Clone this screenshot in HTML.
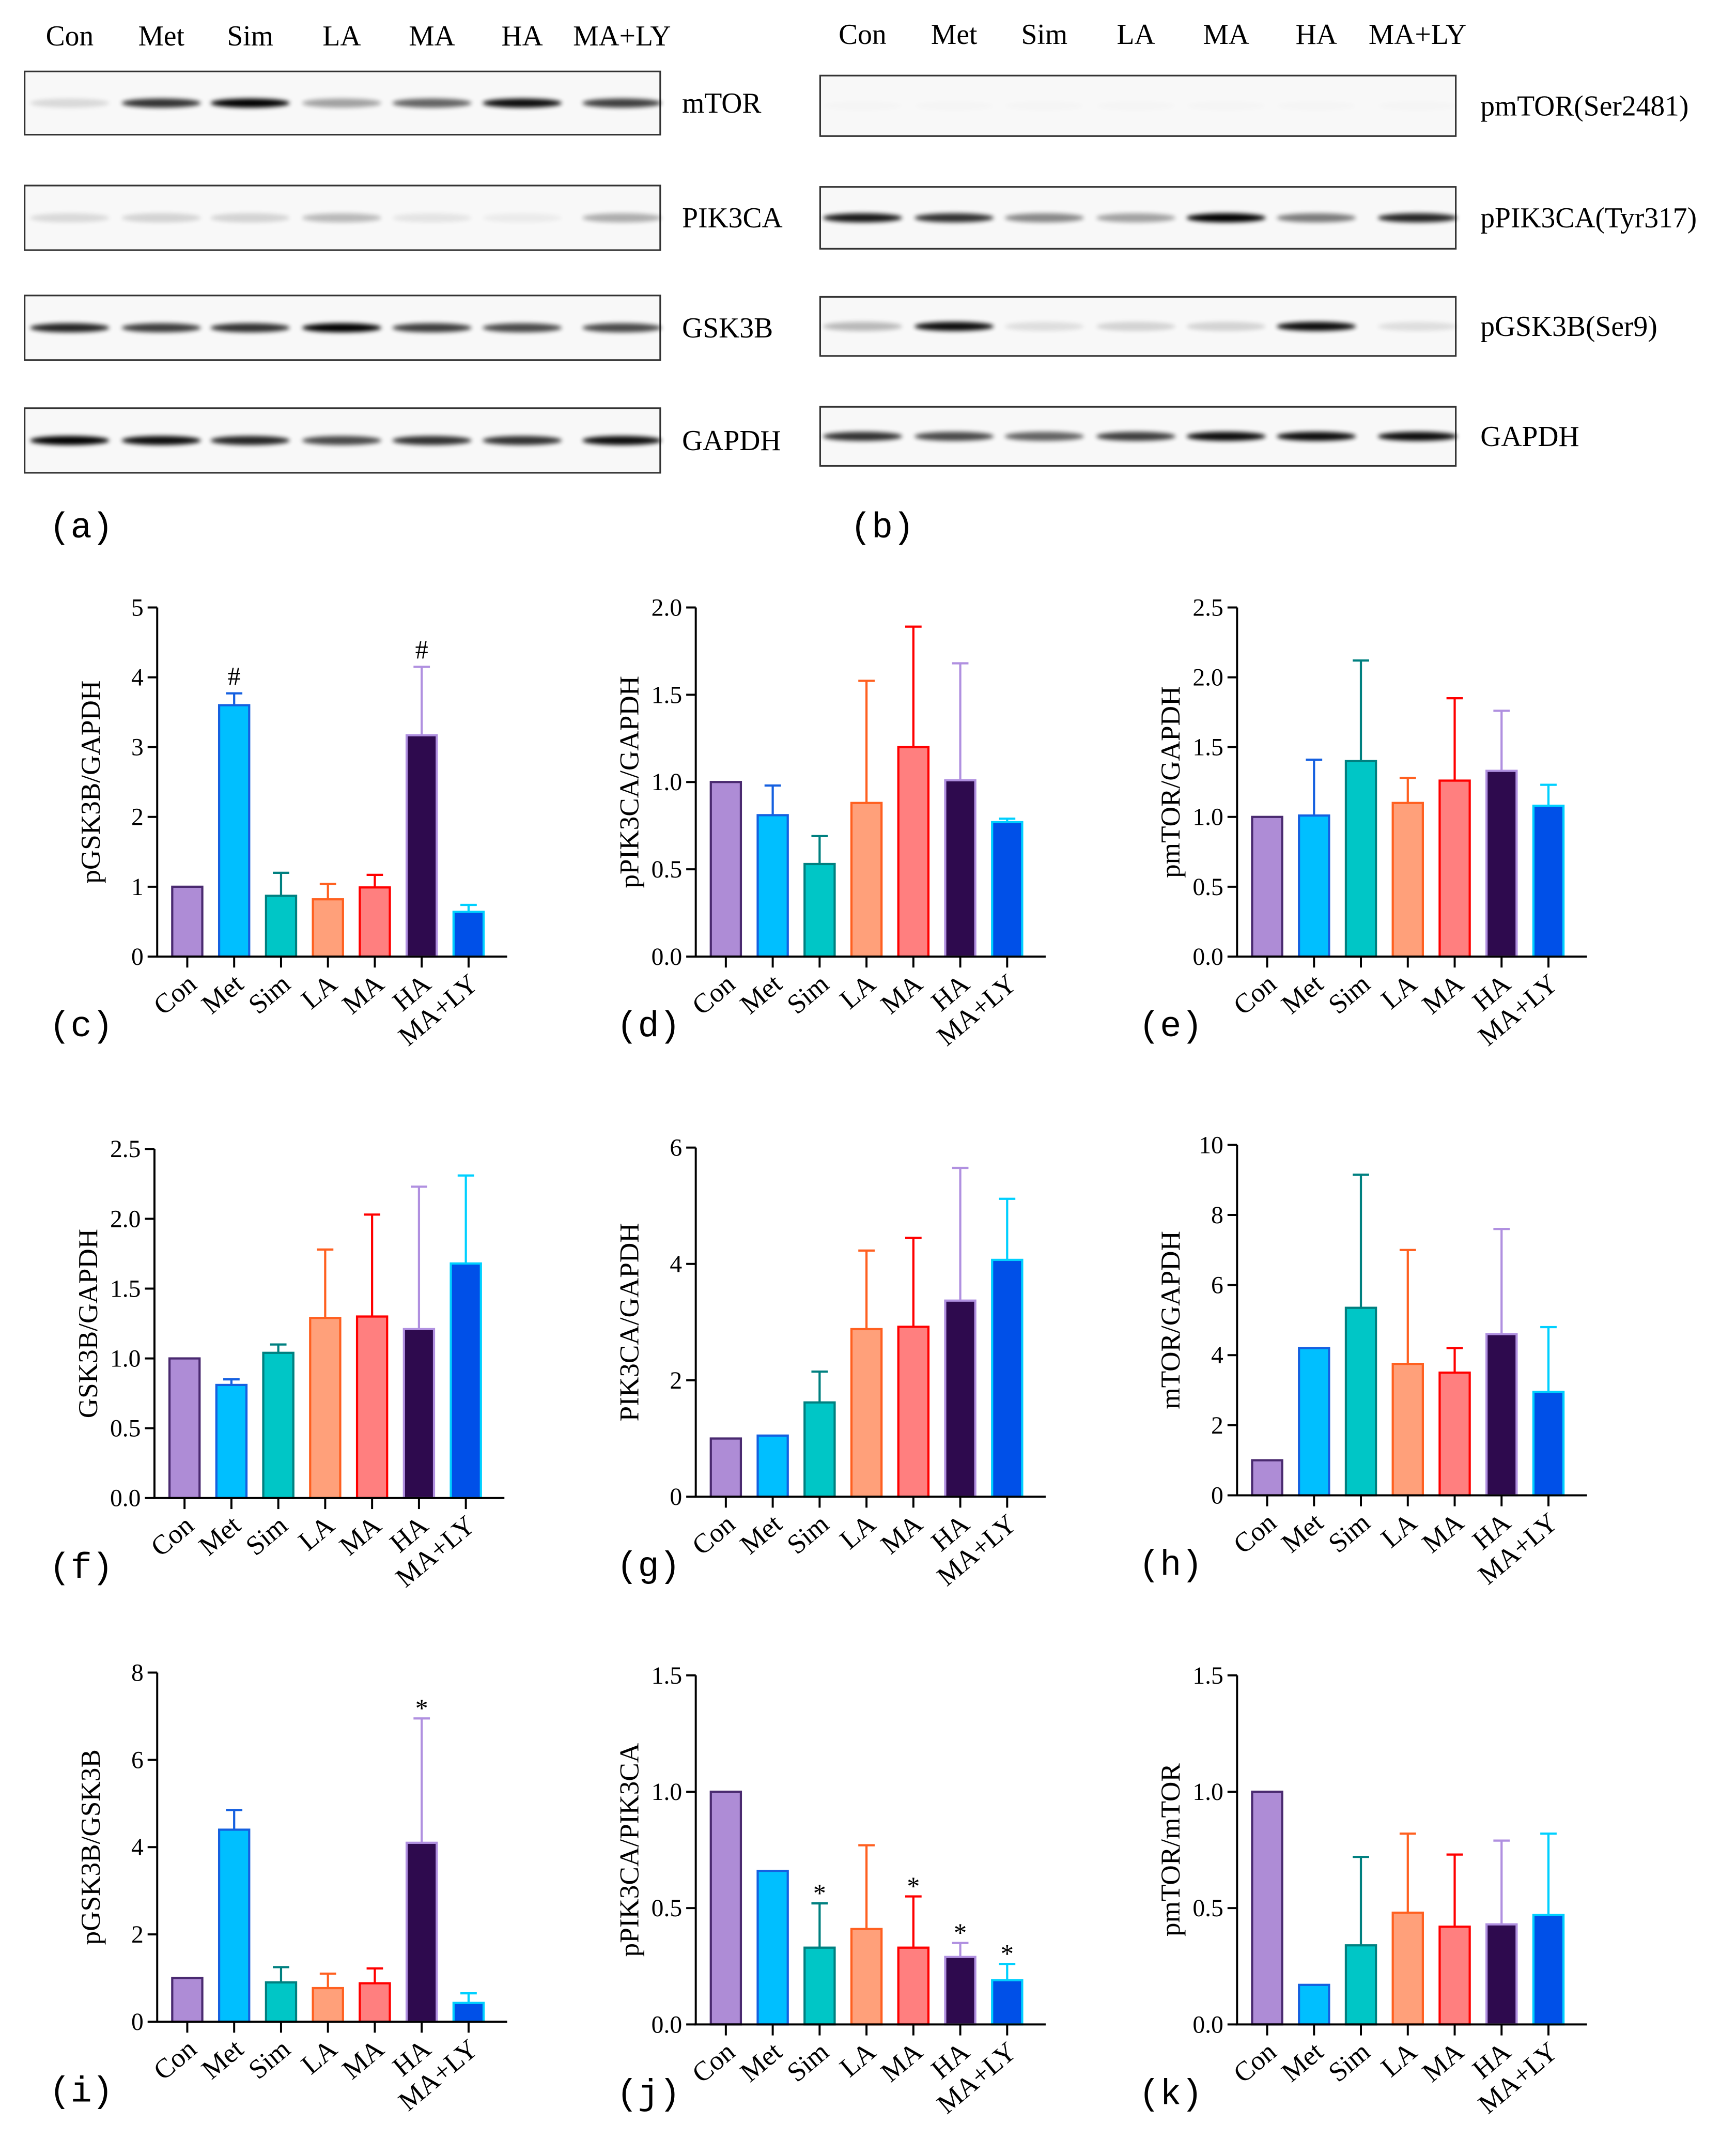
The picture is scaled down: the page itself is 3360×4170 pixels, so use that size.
<!DOCTYPE html>
<html><head><meta charset="utf-8"><style>
html,body{margin:0;padding:0;background:#fff;}
svg{display:block;font-family:"Liberation Serif",serif;}
</style></head><body>
<svg id="fig" width="3360" height="4170" viewBox="0 0 1270 1568" preserveAspectRatio="none" xmlns="http://www.w3.org/2000/svg">
<defs>
<filter id="blur" x="-50%" y="-200%" width="200%" height="500%"><feGaussianBlur stdDeviation="1.6"/></filter>
</defs>
<g id="blots"></g>
<g id="charts"></g>
</svg>
<script>
const groups = ["Con","Met","Sim","LA","MA","HA","MA+LY"];
const fills = ["#ae8cd6","#00bfff","#00c6c6","#ffa07a","#ff7f7f","#2e0a4e","#0050e8"];
const strokes = ["#4a2a70","#1560e0","#008080","#ff6020","#ff0000","#b090e0","#00d0ff"];

const cVals=[1,3.6,0.87,0.82,0.99,3.17,0.64];
const cTops=[null,3.77,1.2,1.04,1.17,4.15,0.74];
const cMarks=["","#","","","","#",""];
const cTicks=[0,1,2,3,4,5];
const dVals=[1,0.81,0.53,0.88,1.2,1.01,0.77];
const dTops=[null,0.98,0.69,1.58,1.89,1.68,0.79];
const dTicks=["0.0","0.5","1.0","1.5","2.0"];
const eVals=[1,1.01,1.4,1.1,1.26,1.33,1.08];
const eTops=[null,1.41,2.12,1.28,1.85,1.76,1.23];
const eTicks=["0.0","0.5","1.0","1.5","2.0","2.5"];
const fVals=[1,0.81,1.04,1.29,1.3,1.21,1.68];
const fTops=[null,0.85,1.1,1.78,2.03,2.23,2.31];
const fTicks=["0.0","0.5","1.0","1.5","2.0","2.5"];
const gVals=[1,1.05,1.62,2.88,2.92,3.37,4.07];
const gTops=[null,null,2.15,4.23,4.45,5.65,5.12];
const gTicks=[0,2,4,6];
const hVals=[1,4.2,5.35,3.75,3.5,4.6,2.95];
const hTops=[null,null,9.15,7.0,4.2,7.6,4.8];
const hTicks=[0,2,4,6,8,10];
const iVals=[1,4.4,0.9,0.77,0.88,4.1,0.43];
const iTops=[null,4.85,1.25,1.1,1.22,6.95,0.65];
const iMarks=["","","","","","*",""];
const iTicks=[0,2,4,6,8];
const jVals=[1,0.66,0.33,0.41,0.33,0.29,0.19];
const jTops=[null,null,0.52,0.77,0.55,0.35,0.26];
const jMarks=["","","*","","*","*","*"];
const jTicks=["0.0","0.5","1.0","1.5"];
const kVals=[1,0.17,0.34,0.48,0.42,0.43,0.47];
const kTops=[null,null,0.72,0.82,0.73,0.79,0.82];
const kTicks=["0.0","0.5","1.0","1.5"];

const NS="http://www.w3.org/2000/svg";
function mk(tag,attrs,parent,text){const e=document.createElementNS(NS,tag);for(const k in attrs)e.setAttribute(k,attrs[k]);if(text!==undefined)e.textContent=text;parent.appendChild(e);return e;}

// ---------- blots ----------
const blotG=document.getElementById('blots');
const aLanes=[51,118,183,250,316,382,455];
const bLanes=[631,698,764,831,897,963,1037];
const aRows=[{name:"mTOR",y0:52,y1:98,v:[.12,.8,1,.35,.6,.95,.75]},
 {name:"PIK3CA",y0:135,y1:182,v:[.12,.15,.15,.25,.08,.05,.3]},
 {name:"GSK3B",y0:215,y1:262,v:[.85,.75,.8,1,.75,.7,.7]},
 {name:"GAPDH",y0:297,y1:344,v:[1,.95,.85,.7,.8,.8,.95]}];
const bRows=[{name:"pmTOR(Ser2481)",y0:55,y1:99,v:[.01,.01,.01,.01,.01,.01,.01]},
 {name:"pPIK3CA(Tyr317)",y0:136,y1:181,v:[.9,.8,.45,.35,1,.5,.85]},
 {name:"pGSK3B(Ser9)",y0:216,y1:259,v:[.25,.95,.1,.15,.15,.95,.1]},
 {name:"GAPDH",y0:296,y1:339,v:[.8,.7,.6,.75,.95,.95,.95]}];
function drawBlot(x0,x1,lanes,rows,hy,labX,panel,px){
  const g=mk('g',{},blotG);
  
  
  lanes.forEach((lx,i)=>{const t=mk('text',{x:lx,y:hy,'font-size':21,'text-anchor':'middle'},g,groups[i]);
    });
  rows.forEach(r=>{
    const box=mk('rect',{x:x0,y:r.y0,width:x1-x0,height:r.y1-r.y0,fill:'#f8f8f8',stroke:'#333','stroke-width':1.2},g);
    
    const cy=(r.y0+r.y1)/2;
    r.v.forEach((v,i)=>{const b=mk('ellipse',{cx:lanes[i],cy:cy,rx:29,ry:3.3,fill:'#000',opacity:v,filter:'url(#blur)'},g);
      });
    const t=mk('text',{x:labX,y:cy+7,'font-size':21},g,r.name);
    
  });
  const pl=mk('text',{x:px,y:391,'font-size':26,'font-family':'Liberation Mono, monospace'},g,'('+panel+')');
  
}
drawBlot(18,483,aLanes,aRows,33,499,'a',36);
drawBlot(600,1065,bLanes,bRows,32,1083,'b',622);

// ---------- charts ----------
const chartG=document.getElementById('charts');
function drawChart(panel,x0,yTop,y0,vals,tops,ticks,title,marks,px){
  const g=mk('g',{},chartG);
  
  
  const tv=ticks.map(Number);const max=tv[tv.length-1];
  const y=v=>y0-(v/max)*(y0-yTop);
  const x=i=>x0+22+i*34.3;
  vals.forEach((v,i)=>{
    if(tops[i]!=null){
      const e=mk('line',{x1:x(i),x2:x(i),y1:y(v),y2:y(tops[i]),stroke:strokes[i],'stroke-width':1.6},g);
      
      const c=mk('line',{x1:x(i)-6,x2:x(i)+6,y1:y(tops[i]),y2:y(tops[i]),stroke:strokes[i],'stroke-width':1.6},g);
      
    }
    const b=mk('rect',{x:x(i)-11,y:y(v),width:22,height:y0-y(v),fill:fills[i],stroke:strokes[i],'stroke-width':1.6},g);
    
    if(marks&&marks[i]){const top=tops[i]!=null?tops[i]:v;
      const m=mk('text',{x:x(i),y:y(top)-(marks[i]=='*'?1:6),'font-size':marks[i]=='*'?19:19,'text-anchor':'middle'},g,marks[i]);
      }
    const tk=mk('line',{x1:x(i),x2:x(i),y1:y0,y2:y0+8,stroke:'#000','stroke-width':1.5},g);
    
    const lx=x(i)+8,ly=y0+22;
    const lt=mk('text',{x:lx,y:ly,'font-size':20,'text-anchor':'end',transform:`rotate(-40 ${lx} ${ly})`},g,groups[i]);
    
  });
  const ya=mk('line',{x1:x0,x2:x0,y1:yTop,y2:y0,stroke:'#000','stroke-width':1.5},g);
  
  const xa=mk('line',{x1:x0-1,x2:x0+256,y1:y0,y2:y0,stroke:'#000','stroke-width':1.5},g);
  
  ticks.forEach(t=>{const yy=y(Number(t));
    const tl=mk('line',{x1:x0-7,x2:x0,y1:yy,y2:yy,stroke:'#000','stroke-width':1.5},g);
    
    const tt=mk('text',{x:x0-10,y:yy+6,'font-size':18,'text-anchor':'end'},g,String(t));
    });
  const tx=x0-42,ty=(yTop+y0)/2;
  const yt=mk('text',{x:tx,y:ty,'font-size':20,'text-anchor':'middle',transform:`rotate(-90 ${tx} ${ty})`},g,title);
  
  const pl=mk('text',{x:px,y:y0+58,'font-size':26,'font-family':'Liberation Mono, monospace'},g,'('+panel+')');
  
}
drawChart('c',115,442,696,cVals,cTops,cTicks,'pGSK3B/GAPDH',cMarks,36);
drawChart('d',509,442,696,dVals,dTops,dTicks,'pPIK3CA/GAPDH',null,451);
drawChart('e',905,442,696,eVals,eTops,eTicks,'pmTOR/GAPDH',null,833);
drawChart('f',113,836,1090,fVals,fTops,fTicks,'GSK3B/GAPDH',null,36);
drawChart('g',509,835,1089,gVals,gTops,gTicks,'PIK3CA/GAPDH',null,451);
drawChart('h',905,833,1088,hVals,hTops,hTicks,'mTOR/GAPDH',null,833);
drawChart('i',115,1217,1471,iVals,iTops,iTicks,'pGSK3B/GSK3B',iMarks,36);
drawChart('j',509,1219,1473,jVals,jTops,jTicks,'pPIK3CA/PIK3CA',jMarks,451);
drawChart('k',905,1219,1473,kVals,kTops,kTicks,'pmTOR/mTOR',null,833);
</script>
</body></html>
